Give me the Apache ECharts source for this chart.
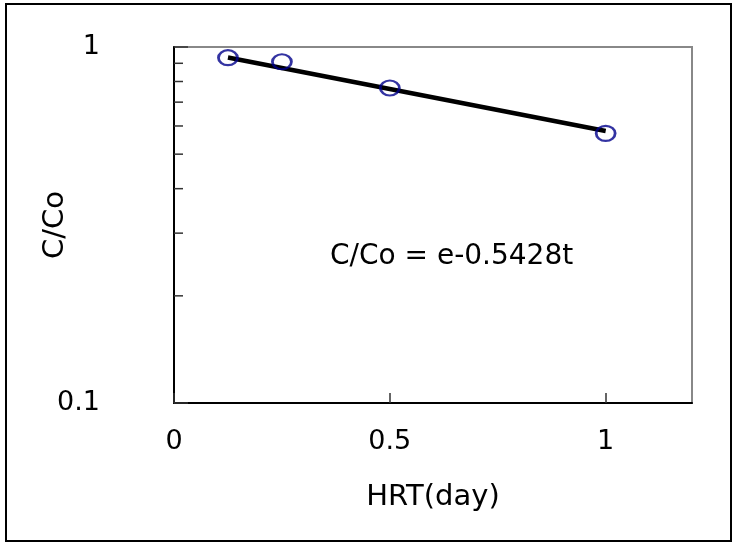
<!DOCTYPE html>
<html><head><meta charset="utf-8">
<script src="https://cdn.jsdelivr.net/npm/echarts@6/dist/echarts.min.js"></script>
<style>html,body{margin:0;padding:0;background:#fff}#c{width:734px;height:544px}</style>
</head><body><div id="c"></div>
<script>
// Observed data (HRT in days, C/Co)
var hrt = [0.125, 0.25, 0.5, 1.0];
var ratio = [0.933, 0.909, 0.767, 0.572];
// Fitted line C/Co = e^-0.5428t, read at its two ends
var fitT = [0.125, 1.0];
var fitC = [0.934, 0.581];
// Axis ticks
var xTicks = [0, 0.5, 1];
var yMinorTicks = [0.2, 0.3, 0.4, 0.5, 0.6, 0.7, 0.8, 0.9];
var equation = 'C/Co = e-0.5428t';

var FONT = 'DejaVu Sans';
var chart = echarts.init(document.getElementById('c'), null, {renderer: 'canvas'});
chart.setOption({
  animation: false,
  backgroundColor: '#fff',
  grid: {left: 174, top: 47, right: 42, bottom: 141, show: true, borderColor: '#888', borderWidth: 2, backgroundColor: 'transparent'},
  xAxis: {
    type: 'value', min: 0, max: 1.2, interval: 0.5,
    name: 'HRT(day)', nameLocation: 'middle', nameGap: 80, nameMoveOverlap: false,
    nameTextStyle: {fontFamily: FONT, fontSize: 29, color: '#000'},
    axisLine: {lineStyle: {color: '#000', width: 2}},
    axisTick: {inside: true, length: 10, lineStyle: {color: '#333', width: 1.5}},
    axisLabel: {fontFamily: FONT, fontSize: 27, color: '#000', margin: 25, showMaxLabel: false,
      formatter: function (v) { return xTicks.indexOf(v) >= 0 ? String(v) : ''; }},
    splitLine: {show: false}
  },
  yAxis: {
    type: 'log', logBase: 10, min: 0.1, max: 1,
    name: 'C/Co', nameLocation: 'middle', nameGap: 104, nameMoveOverlap: false,
    nameTextStyle: {fontFamily: FONT, fontSize: 29, color: '#000'},
    axisLine: {lineStyle: {color: '#000', width: 2}},
    axisTick: {inside: true, length: 14, lineStyle: {color: '#333', width: 1.5}},
    axisLabel: {fontFamily: FONT, fontSize: 27, color: '#000', margin: 74,
      formatter: function (v) { return v >= 0.99 ? '1' : '0.1'; }},
    splitLine: {show: false}
  },
  graphic: [
    {type: 'rect', shape: {x: 6, y: 4, width: 725, height: 537}, style: {fill: 'none', stroke: '#000', lineWidth: 2}, silent: true},
    {type: 'text', left: 330, top: 243, style: {text: equation, font: '28px "DejaVu Sans"', fill: '#000'}, silent: true}
  ],
  series: [
    {
      type: 'custom', silent: true, z: 1,
      data: yMinorTicks.map(function (v) { return [0, v]; }),
      renderItem: function (params, api) {
        var p = api.coord([api.value(0), api.value(1)]);
        return {type: 'line', shape: {x1: p[0], y1: p[1], x2: p[0] + 9, y2: p[1]}, style: {stroke: '#333', lineWidth: 1.5}};
      }
    },
    {
      type: 'line', z: 2, symbol: 'none', silent: true,
      data: fitT.map(function (t, i) { return [t, fitC[i]]; }),
      lineStyle: {color: '#000', width: 4.5}
    },
    {
      type: 'scatter', z: 3, symbol: 'circle', symbolSize: [19, 15], silent: true,
      data: hrt.map(function (t, i) { return [t, ratio[i]]; }),
      itemStyle: {color: 'rgba(0,0,0,0)', borderColor: '#00008B', borderWidth: 2.5}
    }
  ]
});
</script></body></html>
